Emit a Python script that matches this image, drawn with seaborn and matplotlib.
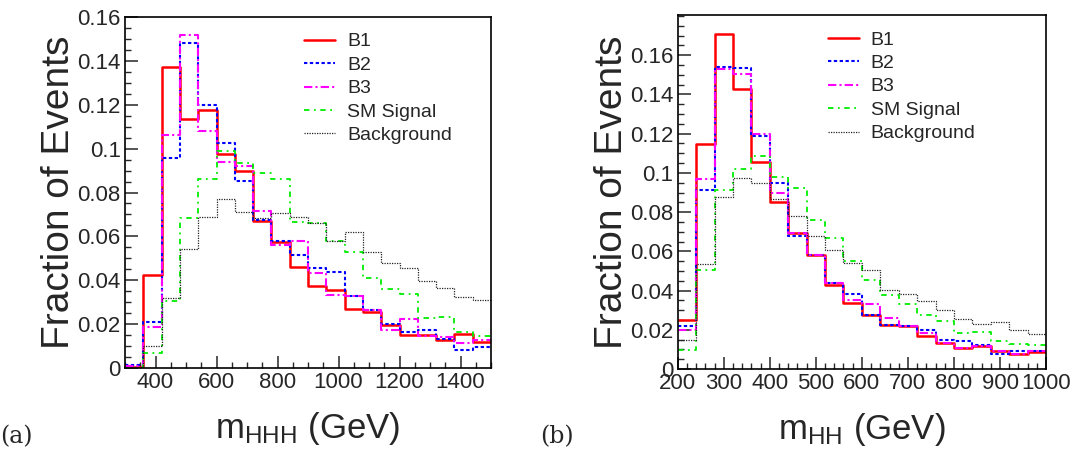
import numpy as np
import pandas as pd
import matplotlib
matplotlib.use('Agg')
import matplotlib.pyplot as plt
import matplotlib.ticker as mtick
import seaborn as sns

# left panel: m_HHH, 20 bins of 60 GeV from 300 to 1500
edges_hhh = list(range(300, 1501, 60))
b1_hhh = [0.0005, 0.0423, 0.137, 0.1134, 0.1178, 0.0977, 0.0897, 0.0671, 0.0575, 0.0461,
          0.0373, 0.0355, 0.0271, 0.0257, 0.0196, 0.015, 0.015, 0.0126, 0.0157, 0.012]
b2_hhh = [0.0015, 0.0211, 0.0957, 0.148, 0.120, 0.1026, 0.0854, 0.0676, 0.058, 0.0513,
          0.0454, 0.0436, 0.0326, 0.0263, 0.0202, 0.0164, 0.0172, 0.013, 0.008, 0.0097]
b3_hhh = [0.0008, 0.0187, 0.106, 0.152, 0.108, 0.094, 0.092, 0.0717, 0.0562, 0.0577,
          0.0431, 0.0333, 0.0329, 0.0263, 0.0172, 0.0222, 0.0146, 0.0142, 0.0116, 0.0126]
sm_hhh = [0.0, 0.007, 0.0306, 0.0684, 0.086, 0.0988, 0.0935, 0.0887, 0.0862, 0.0664,
          0.066, 0.058, 0.0531, 0.041, 0.036, 0.0336, 0.0229, 0.0233, 0.0165, 0.0146]
bkg_hhh = [0.0, 0.0102, 0.0318, 0.0542, 0.0689, 0.077, 0.0711, 0.0686, 0.0706, 0.069,
           0.066, 0.0577, 0.0618, 0.0531, 0.0479, 0.0455, 0.0398, 0.0363, 0.0322, 0.031]
yticks_hhh = [0, 0.02, 0.04, 0.06, 0.08, 0.1, 0.12, 0.14, 0.16]

# right panel: m_HH, 20 bins of 40 GeV from 200 to 1000
edges_hh = list(range(200, 1001, 40))
b1_hh = [0.0248, 0.1148, 0.171, 0.1429, 0.1058, 0.0854, 0.0696, 0.0583, 0.043, 0.0337,
         0.0277, 0.0222, 0.0217, 0.0166, 0.0133, 0.0105, 0.0116, 0.0091, 0.0074, 0.0086]
b2_hh = [0.0218, 0.0913, 0.1538, 0.1533, 0.1188, 0.0948, 0.068, 0.0583, 0.0439, 0.0384,
         0.0277, 0.0222, 0.0217, 0.020, 0.0146, 0.0141, 0.012, 0.0074, 0.0091, 0.0091]
b3_hh = [0.0201, 0.097, 0.1528, 0.1504, 0.1197, 0.0897, 0.0696, 0.0583, 0.0439, 0.0351,
         0.0332, 0.0258, 0.0217, 0.0184, 0.0133, 0.0105, 0.0116, 0.0094, 0.0079, 0.0091]
sm_hh = [0.0099, 0.0506, 0.0913, 0.1019, 0.1087, 0.0978, 0.0922, 0.0761, 0.0668, 0.0549,
         0.0456, 0.0379, 0.0333, 0.0274, 0.0243, 0.0185, 0.0188, 0.0145, 0.0125, 0.012]
bkg_hh = [0.015, 0.0537, 0.0876, 0.0973, 0.0948, 0.0866, 0.0778, 0.0676, 0.0606, 0.054,
          0.0507, 0.0405, 0.0383, 0.0345, 0.0303, 0.0256, 0.023, 0.0239, 0.0198, 0.0181]
yticks_hh = [0, 0.02, 0.04, 0.06, 0.08, 0.1, 0.12, 0.14, 0.16]

labels = ['B1', 'B2', 'B3', 'SM Signal', 'Background']
colors = ['#ff0000', '#0000ff', '#ff00ff', '#00ee00', '#222222']
dashes = [None, (1.6, 1.2), (4, 1.5, 1, 1.5), (3, 2.5, 1, 2.5), (1, 1)]
widths = [1.8, 1.5, 1.5, 1.3, 0.9]

sns.set_style('ticks')
plt.rcParams['font.family'] = ['Liberation Sans', 'DejaVu Sans']
plt.rcParams['mathtext.fontset'] = 'custom'
plt.rcParams['mathtext.rm'] = 'Liberation Sans'
plt.rcParams['mathtext.it'] = 'Liberation Sans:italic'
plt.rcParams['xtick.direction'] = 'in'
plt.rcParams['ytick.direction'] = 'in'

fig = plt.figure(figsize=(10.74, 4.55), dpi=100)
ax1 = fig.add_axes([0.1164, 0.1912, 0.3408, 0.7714])
ax2 = fig.add_axes([0.631, 0.189, 0.343, 0.778])


def draw_panel(ax, edges, series, xlim, ylim, yticks, xmaj, xmin, xlabel, leg_x):
    centers = [(lo + hi) / 2 for lo, hi in zip(edges[:-1], edges[1:])]
    for vals, lab, c, d, lw in zip(series, labels, colors, dashes, widths):
        df = pd.DataFrame({'m': centers, 'w': vals})
        kw = dict(color=c, linewidth=lw, label=lab)
        if d is not None:
            kw['dashes'] = d
        sns.histplot(data=df, x='m', weights='w', bins=edges, element='step', fill=False,
                     ax=ax, **kw)
    ax.set_xlim(*xlim)
    ax.set_ylim(*ylim)
    ax.xaxis.set_major_locator(mtick.MultipleLocator(xmaj))
    ax.xaxis.set_minor_locator(mtick.MultipleLocator(xmin))
    ax.yaxis.set_major_locator(mtick.FixedLocator(yticks))
    ax.yaxis.set_minor_locator(mtick.MultipleLocator(0.005))
    ax.yaxis.set_major_formatter(mtick.FuncFormatter(lambda v, p: f'{v:g}'))
    ax.tick_params(which='major', length=9, width=1.1, labelsize=16, pad=3)
    ax.tick_params(which='minor', length=4.5, width=1.0)
    for s in ax.spines.values():
        s.set_linewidth(1.2)
        s.set_color('black')
    ax.set_ylabel('Fraction of Events', fontsize=28, labelpad=0)
    ax.set_xlabel(xlabel, fontsize=25, labelpad=12)
    ax.legend(loc='upper left', bbox_to_anchor=(leg_x, 0.955), frameon=False, fontsize=14,
              handlelength=1.6, handletextpad=0.6, labelspacing=0.3, borderaxespad=0,
              borderpad=0)


draw_panel(ax1, edges_hhh, [b1_hhh, b2_hhh, b3_hhh, sm_hhh, bkg_hhh], (300, 1500), (0, 0.16),
           yticks_hhh, 200, 50, r'm$_{\mathrm{HHH}}$ (GeV)', 0.49)
draw_panel(ax2, edges_hh, [b1_hh, b2_hh, b3_hh, sm_hh, bkg_hh], (200, 1000), (0, 0.1805),
           yticks_hh, 100, 20, r'm$_{\mathrm{HH}}$ (GeV)', 0.408)

fig.text(0.0, 0.04, '(a)', fontsize=17, family=['DejaVu Serif'], va='center', ha='left')
fig.text(0.503, 0.04, '(b)', fontsize=17, family=['DejaVu Serif'], va='center', ha='left')

fig.savefig('out.png', dpi=100)
